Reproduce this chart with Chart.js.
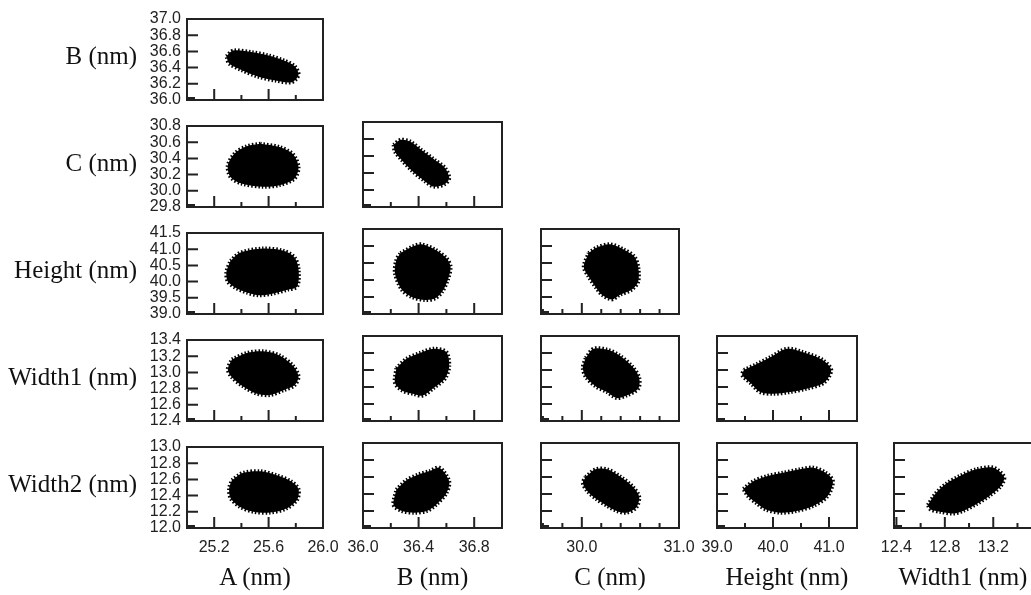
<!DOCTYPE html>
<html>
<head>
<meta charset="utf-8">
<script src="https://cdn.jsdelivr.net/npm/chart.js@4.4.1/dist/chart.umd.min.js"></script>
<style>
  html, body { margin: 0; padding: 0; background: #fff; }
  #wrap { position: relative; width: 1031px; height: 595px; overflow: hidden; }
  #wrap canvas { position: absolute; }
  .lab {
    position: absolute; white-space: nowrap; color: #111;
    font-family: "Liberation Serif", "Times New Roman", serif; font-size: 25px; line-height: 28px;
  }
</style>
</head>
<body>
<div id="wrap"></div>
<script>
// axis names
const rowNames = ['B (nm)', 'C (nm)', 'Height (nm)', 'Width1 (nm)', 'Width2 (nm)'];
const colNames = ['A (nm)', 'B (nm)', 'C (nm)', 'Height (nm)', 'Width1 (nm)'];

// x axes (one per column)
const xMin = [25.0, 36.0, 29.58, 39.0, 12.38];
const xMax = [26.0, 37.0, 31.0, 41.5, 13.52];
const xTicks = [
  [25.0, 25.2, 25.4, 25.6, 25.8, 26.0],
  [36.0, 36.2, 36.4, 36.6, 36.8, 37.0],
  [29.6, 29.8, 30.0, 30.2, 30.4, 30.6, 30.8, 31.0],
  [39.0, 39.5, 40.0, 40.5, 41.0, 41.5],
  [12.4, 12.6, 12.8, 13.0, 13.2, 13.4]
];
const xLabeled = [
  [25.2, 25.6, 26.0],
  [36.0, 36.4, 36.8],
  [30.0, 31.0],
  [39.0, 40.0, 41.0],
  [12.4, 12.8, 13.2]
];

// y axes (one per row)
const yMin = [36.0, 29.8, 39.0, 12.4, 12.0];
const yMax = [37.0, 30.8, 41.5, 13.4, 13.0];
const yTicks = [
  [36.0, 36.2, 36.4, 36.6, 36.8, 37.0],
  [29.8, 30.0, 30.2, 30.4, 30.6, 30.8],
  [39.0, 39.5, 40.0, 40.5, 41.0, 41.5],
  [12.4, 12.6, 12.8, 13.0, 13.2, 13.4],
  [12.0, 12.2, 12.4, 12.6, 12.8, 13.0]
];

// outlines of the sample clouds, [x, y]
const cloudA_B = [[25.29,36.54],[25.34,36.61],[25.48,36.59],[25.60,36.55],[25.71,36.49],[25.79,36.42],[25.82,36.31],[25.77,36.22],[25.65,36.24],[25.52,36.29],[25.40,36.37],[25.31,36.45]];
const cloudA_C = [[25.54,30.58],[25.44,30.55],[25.35,30.46],[25.30,30.31],[25.32,30.17],[25.40,30.09],[25.56,30.05],[25.68,30.07],[25.79,30.15],[25.82,30.29],[25.78,30.45],[25.68,30.54]];
const cloudB_C = [[36.22,30.53],[36.27,30.59],[36.34,30.57],[36.42,30.47],[36.52,30.35],[36.59,30.26],[36.62,30.14],[36.59,30.07],[36.51,30.04],[36.44,30.11],[36.35,30.23],[36.28,30.35],[36.23,30.45]];
const cloudA_H = [[25.32,40.64],[25.39,40.89],[25.56,41.02],[25.71,40.95],[25.79,40.75],[25.82,40.39],[25.81,39.85],[25.74,39.75],[25.62,39.62],[25.52,39.58],[25.44,39.66],[25.36,39.80],[25.30,40.00],[25.29,40.30]];
const cloudB_H = [[36.27,40.79],[36.36,40.99],[36.42,41.05],[36.52,40.89],[36.60,40.64],[36.63,40.39],[36.61,40.00],[36.57,39.66],[36.52,39.46],[36.45,39.41],[36.35,39.50],[36.28,39.71],[36.23,40.20],[36.24,40.59]];
const cloudC_H = [[30.07,40.79],[30.15,40.95],[30.29,41.05],[30.43,40.90],[30.54,40.69],[30.58,40.39],[30.58,39.95],[30.51,39.71],[30.39,39.56],[30.31,39.43],[30.21,39.56],[30.15,39.76],[30.07,40.10],[30.02,40.39]];
const cloudA_W1 = [[25.33,13.16],[25.44,13.24],[25.56,13.26],[25.68,13.21],[25.78,13.08],[25.82,12.95],[25.79,12.84],[25.71,12.78],[25.61,12.72],[25.51,12.74],[25.41,12.83],[25.33,12.94],[25.30,13.04]];
const cloudB_W1 = [[36.24,13.02],[36.31,13.13],[36.41,13.20],[36.51,13.25],[36.60,13.21],[36.62,13.04],[36.59,12.90],[36.51,12.79],[36.43,12.70],[36.36,12.72],[36.28,12.76],[36.23,12.85]];
const cloudC_W1 = [[30.04,13.14],[30.12,13.25],[30.26,13.24],[30.39,13.17],[30.52,13.04],[30.59,12.91],[30.58,12.78],[30.46,12.70],[30.36,12.67],[30.26,12.74],[30.14,12.81],[30.04,12.92],[30.01,13.03]];
const cloudH_W1 = [[39.48,13.00],[39.71,13.07],[39.95,13.15],[40.25,13.25],[40.54,13.21],[40.88,13.12],[41.04,13.00],[40.91,12.85],[40.60,12.78],[40.30,12.74],[40.01,12.72],[39.77,12.74],[39.61,12.84],[39.45,12.94]];
const cloudA_W2 = [[25.33,12.59],[25.41,12.68],[25.54,12.70],[25.66,12.65],[25.77,12.57],[25.82,12.48],[25.81,12.35],[25.73,12.24],[25.61,12.19],[25.49,12.20],[25.39,12.26],[25.32,12.37],[25.31,12.49]];
const cloudB_W2 = [[36.24,12.45],[36.31,12.56],[36.40,12.63],[36.48,12.67],[36.55,12.71],[36.62,12.55],[36.60,12.41],[36.53,12.28],[36.46,12.20],[36.37,12.18],[36.28,12.20],[36.22,12.27]];
const cloudC_W2 = [[30.04,12.60],[30.14,12.69],[30.26,12.69],[30.39,12.61],[30.52,12.49],[30.59,12.37],[30.56,12.24],[30.46,12.18],[30.36,12.20],[30.26,12.26],[30.15,12.34],[30.06,12.43],[30.01,12.53]];
const cloudH_W2 = [[39.47,12.46],[39.65,12.55],[39.89,12.61],[40.18,12.65],[40.48,12.69],[40.72,12.71],[40.94,12.65],[41.07,12.55],[40.97,12.37],[40.72,12.26],[40.42,12.20],[40.13,12.18],[39.86,12.22],[39.71,12.29],[39.56,12.37]];
const cloudW1_W2 = [[12.66,12.27],[12.72,12.40],[12.81,12.52],[12.92,12.61],[13.06,12.69],[13.20,12.71],[13.29,12.60],[13.26,12.49],[13.17,12.38],[13.06,12.28],[12.95,12.20],[12.87,12.17],[12.76,12.19],[12.68,12.22]];

const clouds = [
  [cloudA_B],
  [cloudA_C, cloudB_C],
  [cloudA_H, cloudB_H, cloudC_H],
  [cloudA_W1, cloudB_W1, cloudC_W1, cloudH_W1],
  [cloudA_W2, cloudB_W2, cloudC_W2, cloudH_W2, cloudW1_W2]
];

// panel boxes on the page
const colLeft = [187, 363, 541, 717, 894];
const colWidth = [136, 139, 138, 140, 138];
const rowTop = [15, 122, 229, 336, 443];
const boxH = 85;
const padL = 50, padT = 10, padR = 40, padB = 34;

const wrap = document.getElementById('wrap');
const tickFont = { family: 'Liberation Sans, Arial, sans-serif', size: 16, lineHeight: 1 };
const ink = '#222';

// frame + inward tick marks
function frameTicks(labeled) {
  return {
    id: 'frameTicks',
    afterDraw(chart) {
      const { ctx, chartArea: a, scales } = chart;
      ctx.save();
      ctx.strokeStyle = ink;
      ctx.lineWidth = 2;
      ctx.beginPath();
      scales.x.ticks.forEach(t => {
        const px = scales.x.getPixelForValue(t.value);
        const len = labeled.includes(t.value) ? 11 : 5;
        ctx.moveTo(px, a.bottom);
        ctx.lineTo(px, a.bottom - len);
      });
      scales.y.ticks.forEach(t => {
        const py = scales.y.getPixelForValue(t.value);
        ctx.moveTo(a.left, py);
        ctx.lineTo(a.left + 11, py);
      });
      ctx.stroke();
      ctx.strokeRect(a.left, a.top, a.right - a.left, a.bottom - a.top);
      // small heavy mark in the lower left corner
      ctx.fillStyle = ink;
      ctx.fillRect(a.left, a.bottom - 3, 8, 3);
      ctx.restore();
    }
  };
}

for (let r = 0; r < 5; r++) {
  for (let c = 0; c <= r; c++) {
    const cv = document.createElement('canvas');
    cv.width = padL + colWidth[c] + padR;
    cv.height = padT + boxH + padB;
    cv.style.left = (colLeft[c] - padL) + 'px';
    cv.style.top = (rowTop[r] - padT) + 'px';
    wrap.appendChild(cv);

    const pts = clouds[r][c].map(p => ({ x: p[0], y: p[1] }));
    pts.push(pts[0]);

    new Chart(cv.getContext('2d'), {
      type: 'line',
      data: {
        datasets: [{
          data: pts,
          fill: 'shape',
          backgroundColor: '#000',
          borderColor: '#000',
          borderWidth: 4,
          borderDash: [1.5, 2],
          tension: 0.3,
          pointRadius: 0
        }]
      },
      options: {
        responsive: false,
        animation: false,
        events: [],
        layout: { padding: { left: 0, top: padT, right: padR, bottom: 0 } },
        plugins: { legend: { display: false }, tooltip: { enabled: false } },
        scales: {
          x: {
            type: 'linear',
            min: xMin[c],
            max: xMax[c],
            bounds: 'data',
            afterBuildTicks: s => { s.ticks = xTicks[c].map(v => ({ value: v })); },
            afterFit: s => { s.height = padB; },
            grid: { display: false, drawTicks: false },
            border: { display: false },
            ticks: {
              display: r === 4,
              autoSkip: false,
              maxRotation: 0,
              padding: 12,
              color: ink,
              font: tickFont,
              callback: v => xLabeled[c].includes(v) ? v.toFixed(1) : ''
            }
          },
          y: {
            type: 'linear',
            min: yMin[r],
            max: yMax[r],
            bounds: 'data',
            afterBuildTicks: s => { s.ticks = yTicks[r].map(v => ({ value: v })); },
            afterFit: s => { s.width = padL; },
            grid: { display: false, drawTicks: false },
            border: { display: false },
            ticks: {
              display: c === 0,
              autoSkip: false,
              padding: 6,
              color: ink,
              font: tickFont,
              callback: v => v.toFixed(1)
            }
          }
        }
      },
      plugins: [frameTicks(xLabeled[c])]
    });
  }
}

// row and column titles
rowNames.forEach((name, r) => {
  const d = document.createElement('div');
  d.className = 'lab';
  d.textContent = name;
  d.style.right = (1031 - 137) + 'px';
  d.style.top = (rowTop[r] + boxH / 2 - 16) + 'px';
  wrap.appendChild(d);
});
colNames.forEach((name, c) => {
  const d = document.createElement('div');
  d.className = 'lab';
  d.textContent = name;
  d.style.width = '200px';
  d.style.textAlign = 'center';
  d.style.left = (colLeft[c] + colWidth[c] / 2 - 100) + 'px';
  d.style.top = '563px';
  wrap.appendChild(d);
});
</script>
</body>
</html>
